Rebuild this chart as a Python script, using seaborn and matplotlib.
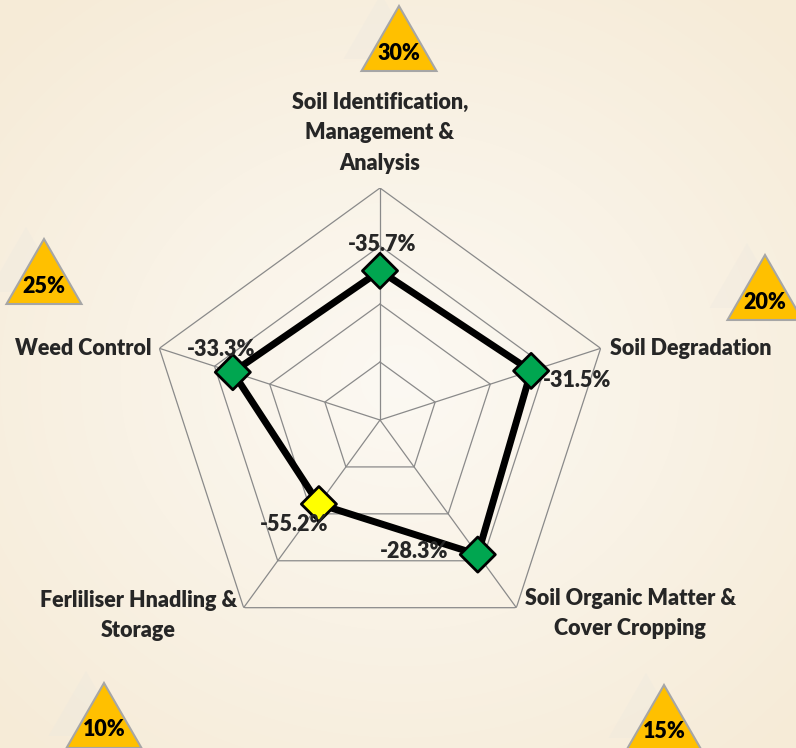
import numpy as np
import pandas as pd

import matplotlib
matplotlib.use('Agg')
import matplotlib.pyplot as plt
from matplotlib.patches import Polygon
import seaborn as sns


categories = ['Soil Identification,\nManagement &\nAnalysis',
              'Soil Degradation',
              'Soil Organic Matter &\nCover Cropping',
              'Ferliliser Hnadling &\nStorage',
              'Weed Control']
changes = [-35.7, -31.5, -28.3, -55.2, -33.3]
weights = ['30%', '20%', '15%', '10%', '25%']
grid_levels = [-75, -50, -25, 0]
r_min = -100

# layout, in pixels of the 796x748 picture
W, H = 796, 748
center_px = (380, 420)
radius_px = 232
label_offsets = [(0, 55, 'center'), (9, 0, 'left'), (114, -6, 'center'),
                 (-105, -8, 'center'), (-8, 0, 'right')]
value_offsets = [(2, 26), (46, -10), (-64, 3), (-25, -20), (-12, 23)]
triangle_apex = [(399, 6), (765, 255), (664, 685), (104, 683), (44, 239)]
FONT_W = 'heavy'

sns.set_style('white')
plt.rcParams['font.family'] = ['Lato', 'DejaVu Sans']

fig = plt.figure(figsize=(W / 100, H / 100), dpi=100)

# parchment-like background
bg = fig.add_axes([0, 0, 1, 1])
yy, xx = np.mgrid[0:H, 0:W]
dist = np.clip(np.hypot((xx - 400) / 560, (yy - 380) / 500), 0, 1)[..., None]
light = np.array([252, 249, 243]) / 255
dark = np.array([246, 235, 215]) / 255
bg.imshow(light * (1 - dist) + dark * dist, extent=[0, W, H, 0], aspect='auto')
bg.set_xlim(0, W)
bg.set_ylim(H, 0)
bg.axis('off')

# weight triangles
tri_w, tri_h = 75, 65
for (ax_x, ax_y), w in zip(triangle_apex, weights):
    shadow = Polygon([(ax_x - 18, ax_y - 12), (ax_x - 18 - tri_w / 2, ax_y - 12 + tri_h),
                      (ax_x - 18 + tri_w / 2, ax_y - 12 + tri_h)],
                     closed=True, facecolor='#ebe8df', edgecolor='none', alpha=0.3)
    bg.add_patch(shadow)
    tri = Polygon([(ax_x, ax_y), (ax_x - tri_w / 2, ax_y + tri_h), (ax_x + tri_w / 2, ax_y + tri_h)],
                  closed=True, facecolor='#FFC000', edgecolor='#a6a6a6', linewidth=1.5)
    bg.add_patch(tri)
    bg.text(ax_x, ax_y + 47, w, ha='center', va='center', fontsize=15.5,
            fontweight=FONT_W, color='black')

# radar axes
rect = [(center_px[0] - radius_px) / W, (H - center_px[1] - radius_px) / H,
        2 * radius_px / W, 2 * radius_px / H]
ax = fig.add_axes(rect, projection='polar')
ax.set_theta_offset(np.pi / 2)
ax.set_theta_direction(-1)
ax.patch.set_alpha(0)

angles = np.linspace(0, 2 * np.pi, len(categories), endpoint=False)
df = pd.DataFrame({'category': categories, 'theta': angles, 'change': changes})
df['lowest'] = df['change'] == df['change'].min()

closed_theta = np.append(angles, 2 * np.pi)
for level in grid_levels:
    ax.plot(closed_theta, [level] * len(closed_theta), color='#8a8a8a', lw=0.9, zorder=1)
for t in angles:
    ax.plot([t, t], [r_min, 0], color='#8a8a8a', lw=0.9, zorder=1)

closed = pd.concat([df, df.iloc[[0]]], ignore_index=True)
closed.loc[len(closed) - 1, 'theta'] = 2 * np.pi
sns.lineplot(data=closed, x='theta', y='change', sort=False, estimator=None,
             color='black', lw=5, ax=ax, zorder=3)
sns.scatterplot(data=df, x='theta', y='change', hue='lowest',
                palette={False: '#00A650', True: '#FFFF00'}, marker='D', s=320,
                edgecolor='black', linewidth=2, legend=False, ax=ax, zorder=4)

ax.set_ylim(r_min, 0)
ax.set_xticks([])
ax.set_yticks([])
ax.set_xlabel('')
ax.set_ylabel('')
ax.grid(False)
ax.spines['polar'].set_visible(False)

for t, v, (dx, dy) in zip(angles, changes, value_offsets):
    ax.annotate(f'{v:.1f}%', (t, v), xytext=(dx, dy), textcoords='offset pixels',
                ha='center', va='center', fontsize=15.5, fontweight=FONT_W, zorder=5)

for t, lab, (dx, dy, ha) in zip(angles, categories, label_offsets):
    ax.annotate(lab, (t, 0), xytext=(dx, dy), textcoords='offset pixels',
                ha=ha, va='center', multialignment='center', fontsize=15.5,
                fontweight=FONT_W, linespacing=1.55, annotation_clip=False)

fig.savefig('out.png', dpi=100)
